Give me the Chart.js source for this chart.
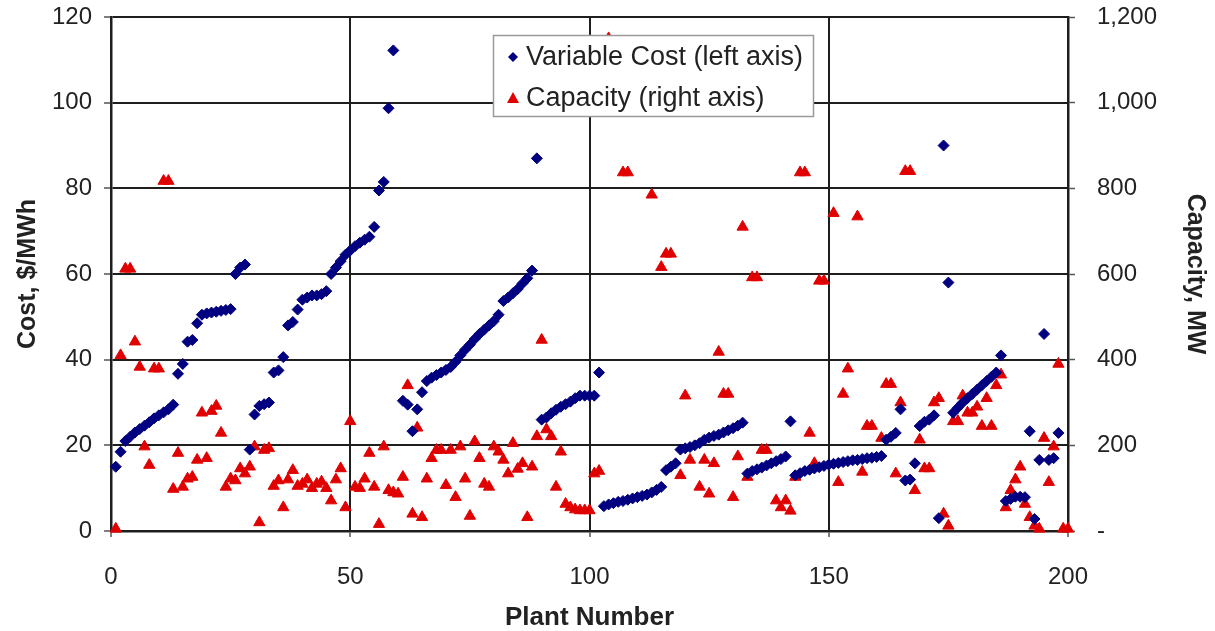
<!DOCTYPE html>
<html>
<head>
<meta charset="utf-8">
<title>Variable cost and capacity by plant</title>
<script src="https://cdn.jsdelivr.net/npm/chart.js@4.4.1/dist/chart.umd.min.js"></script>
<style>
    body { margin: 0; background: #fff; }
    #wrap { width: 1215px; height: 631px; position: relative; }
</style>
</head>
<body>
<div id="wrap"><canvas id="chart"></canvas></div>
<script>
// plant numbers 1..200
const plantNumbers = Array.from({ length: 200 }, (_, i) => i + 1);

// variable cost, $/MWh (left axis), null = no marker visible
const variableCost = [
    15, 18.5, 21, 22, 23, 23.8, 24.6, 25.4, 26.3, 27,
    27.7, 28.4, 29.5, 36.7, 39, 44.2, 44.6, 48.5, 50.5, 50.8,
    51, 51.2, 51.4, 51.6, 51.8, 60, 61.5, 62.2, 19, 27.2,
    29.2, 29.6, 30, 37, 37.5, 40.6, 48, 48.8, 51.7, 54,
    54.5, 55, 55, 55.3, 56, 60, 61.5, 63, 64.5, 65.5,
    66.5, 67.3, 68, 68.7, 71, 79.5, 81.5, 98.7, 112.2, null,
    30.4, 29.5, 23.3, 28.4, 32.4, 35, 35.8, 36.4, 37, 37.6,
    38.3, 39.5, 41, 42.3, 43.5, 44.8, 46, 47, 48, 49,
    50.5, 53.7, 54.5, 55.5, 56.5, 57.8, 59, 60.8, 87, 26,
    26.5, 27.5, 28.3, 29, 29.6, 30.2, 31, 31.6, 31.6, 31.6,
    31.6, 37, 5.8, 6.2, 6.5, 6.8, 7, 7.3, 7.6, 7.9,
    8.2, 8.5, 9, 9.6, 10.3, 14.2, 15, 15.8, 19, 19.3,
    19.6, 20, 20.5, 21.3, 21.8, 22.2, 22.5, 23, 23.5, 24,
    24.6, 25.3, 13.4, 14, 14.4, 14.8, 15.3, 15.8, 16.3, 16.8,
    17.4, 25.6, 13, 13.5, 14, 14.3, 14.6, 14.9, 15.2, 15.5,
    15.7, 15.9, 16.1, 16.3, 16.5, 16.6, 16.8, 17, 17.1, 17.3,
    17.5, 21.3, 22, 22.9, 28.4, 11.8, 12, 15.8, 24.5, 25.5,
    26, 27, 3, 90, 58, 27.6, 28.8, 30, 31, 32,
    33, 34, 35, 36, 37, 41, 7, 7.5, 8, 8,
    7.9, 23.3, 2.8, 16.6, 46, 16.6, 17, 22.9, null, null
];

// capacity, MW (right axis)
const capacity = [
    5, 410, 612, 612, 442, 383, 197, 154, 379, 379,
    817, 817, 98, 182, 103, 122, 126, 166, 276, 170,
    280, 292, 229, 103, 122, 118, 146, 134, 150, 197,
    20, 189, 193, 105, 118, 55, 120, 142, 105, 110,
    120, 100, 110, 115, 100, 71, 120, 146, 55, 256,
    103, 100, 122, 182, 103, 16, 197, 95, 90, 87,
    126, 340, 40, 241, 32, 122, 170, 189, 189, 107,
    189, 79, 197, 122, 35, 209, 170, 110, 103, 197,
    185, 166, 134, 205, 145, 158, 32, 150, 221, 446,
    237, 221, 103, 185, 63, 55, 50, 48, 48, 48,
    134, 140, null, 1150, null, null, 837, 837, null, null,
    null, null, 785, null, 616, 647, 647, null, 130, 316,
    166, null, 103, 166, 87, 158, 418, 320, 320, 79,
    174, 710, 126, 592, 592, 189, 189, null, 71, 55,
    71, 47, 126, 837, 837, 229, 158, 584, 584, null,
    742, 114, 320, 379, null, 734, 138, 245, 245, null,
    217, 343, 343, 134, 300, 840, 840, 95, 213, 146,
    146, 300, 310, 40, 12, 256, 256, 316, 276, 276,
    290, 245, 310, 245, 340, 365, 55, 95, 120, 150,
    63, 32, 12, 5, 217, 114, 197, 390, 5, 5
];

const costTicks = [0, 20, 40, 60, 80, 100, 120];
const capacityTicks = [0, 200, 400, 600, 800, 1000, 1200];
const plantTicks = [0, 50, 100, 150, 200];

const legendLabels = ['Variable Cost (left axis)', 'Capacity (right axis)'];

const FONT = "'Liberation Sans', Arial, Helvetica, sans-serif";
const BLUE = '#000080';
const RED = '#e00000';
const LINE = '#1e1e1e';

function toPoints(ys) {
    const pts = [];
    ys.forEach((y, i) => {
        if (y !== null) pts.push({ x: plantNumbers[i], y: y });
    });
    return pts;
}

// vertical axes: fixed width, and don't let tick padding push the plot top down
function fitVertical(width) {
    return s => {
        s.width = width;
        s.paddingTop = 0;
        s.paddingBottom = 0;
    };
}

// legend box drawn inside the plot, over the markers
const legendBox = {
    id: 'legendBox',
    afterDatasetsDraw(chart) {
        const c = chart.ctx;
        c.save();
        c.fillStyle = '#fff';
        c.fillRect(493, 35, 320, 81);
        c.strokeStyle = '#9a9a9a';
        c.lineWidth = 1.5;
        c.strokeRect(493.5, 35.5, 320, 81);

        // diamond
        c.fillStyle = BLUE;
        c.beginPath();
        c.moveTo(513, 52); c.lineTo(518, 57); c.lineTo(513, 62); c.lineTo(508, 57);
        c.closePath();
        c.fill();
        // triangle
        c.fillStyle = RED;
        c.beginPath();
        c.moveTo(513, 92); c.lineTo(519, 103); c.lineTo(507, 103);
        c.closePath();
        c.fill();

        c.fillStyle = '#222';
        c.font = '27px ' + FONT;
        c.textBaseline = 'middle';
        c.textAlign = 'left';
        c.fillText(legendLabels[0], 526, 58);
        c.fillText(legendLabels[1], 526, 99);
        c.restore();
    }
};

const ctx = document.getElementById('chart').getContext('2d');
new Chart(ctx, {
    type: 'scatter',
    data: {
        datasets: [
            {
                label: legendLabels[0],
                data: toPoints(variableCost),
                yAxisID: 'y',
                pointStyle: 'rectRot',
                pointRadius: 5.5,
                borderWidth: 1,
                backgroundColor: BLUE,
                borderColor: BLUE,
                clip: false
            },
            {
                label: legendLabels[1],
                data: toPoints(capacity),
                yAxisID: 'y2',
                pointStyle: 'triangle',
                pointRadius: 6.5,
                borderWidth: 1,
                backgroundColor: RED,
                borderColor: RED,
                clip: false
            }
        ]
    },
    options: {
        responsive: true,
        maintainAspectRatio: false,
        animation: false,
        layout: { padding: { top: 17, left: 0, right: 0, bottom: 0 } },
        plugins: {
            legend: { display: false },
            tooltip: { enabled: false }
        },
        scales: {
            x: {
                type: 'linear',
                min: 0,
                max: 200,
                afterFit: s => { s.height = 100; },
                afterBuildTicks: s => { s.ticks = plantTicks.map(v => ({ value: v })); },
                grid: { color: LINE, lineWidth: 2, tickLength: 6, tickWidth: 1.5, tickColor: '#555' },
                border: { color: LINE, width: 2.5 },
                ticks: { color: '#222', font: { family: FONT, size: 24 }, padding: 26, maxRotation: 0 },
                title: {
                    display: true,
                    text: 'Plant Number',
                    color: '#222',
                    font: { family: FONT, size: 26, weight: 'bold', lineHeight: 1 },
                    padding: { top: 0, bottom: 0 }
                }
            },
            y: {
                position: 'left',
                min: 0,
                max: 120,
                afterFit: fitVertical(111),
                afterBuildTicks: s => { s.ticks = costTicks.map(v => ({ value: v })); },
                grid: { color: LINE, lineWidth: 2, tickLength: 7, tickWidth: 1.5, tickColor: '#555' },
                border: { color: LINE, width: 2.5 },
                ticks: { color: '#222', font: { family: FONT, size: 24 }, padding: 12 },
                title: {
                    display: true,
                    text: 'Cost, $/MWh',
                    color: '#222',
                    font: { family: FONT, size: 25, weight: 'bold', lineHeight: 1 },
                    padding: { top: 16, bottom: 0 }
                }
            },
            y2: {
                position: 'right',
                min: 0,
                max: 1200,
                afterFit: fitVertical(147),
                afterBuildTicks: s => { s.ticks = capacityTicks.map(v => ({ value: v })); },
                grid: { drawOnChartArea: false, tickLength: 7, tickWidth: 1.5, tickColor: '#555' },
                border: { color: LINE, width: 2.5 },
                ticks: {
                    color: '#222',
                    font: { family: FONT, size: 24 },
                    padding: 22,
                    callback: v => v === 0 ? '-' : v.toLocaleString('en-US')
                },
                title: {
                    display: true,
                    text: 'Capacity, MW',
                    color: '#222',
                    font: { family: FONT, size: 25, weight: 'bold', lineHeight: 1 },
                    padding: { top: 8, bottom: 0 }
                }
            }
        }
    },
    plugins: [legendBox]
});
</script>
</body>
</html>
